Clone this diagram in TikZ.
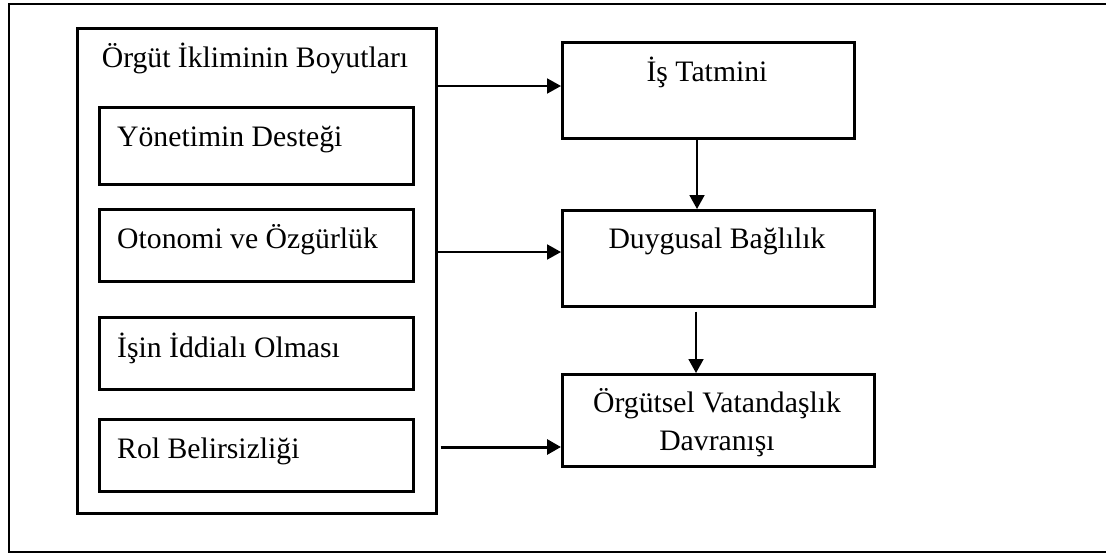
\documentclass[tikz,border=0pt]{standalone}
\usepackage{fontspec}
\setmainfont{Liberation Serif}
\usetikzlibrary{arrows.meta}
\begin{document}
\begin{tikzpicture}[x=1pt,y=-1pt,
  box/.style={draw, line width=2.6pt, inner sep=0pt, anchor=north west},
  lbl/.style={font=\fontsize{29.7}{37}\selectfont, inner sep=0pt},
  arr/.style={-{Triangle[length=14pt,width=15pt]}, line width=1.9pt},
  arrthick/.style={-{Triangle[length=14pt,width=15pt]}, line width=3pt}]
\useasboundingbox (0,0) rectangle (1106,554);
\clip (0,0) rectangle (1106,554);
% outer frame (right side lies beyond the picture)
\draw[line width=2.6pt] (9,4) rectangle (1130,552);
% left group
\node[box, minimum width=359pt, minimum height=485pt] (dim) at (76,27) {};
\node[lbl, anchor=base] (dimt) at (255,67) {Örgüt İkliminin Boyutları};
\node[box, minimum width=314pt, minimum height=77pt] (b1) at (98,106) {};
\node[box, minimum width=314pt, minimum height=72pt] (b2) at (98,208) {};
\node[box, minimum width=314pt, minimum height=72pt] (b3) at (98,316) {};
\node[box, minimum width=314pt, minimum height=72pt] (b4) at (98,418) {};
\node[lbl, anchor=base west] (t1) at (117,146) {Yönetimin Desteği};
\node[lbl, anchor=base west] (t2) at (117,248) {Otonomi ve Özgürlük};
\node[lbl, anchor=base west] (t3) at (117,357) {İşin İddialı Olması};
\node[lbl, anchor=base west] (t4) at (117,458) {Rol Belirsizliği};
% right column
\node[box, minimum width=292pt, minimum height=96pt] (r1) at (561,41) {};
\node[box, minimum width=312pt, minimum height=96pt] (r2) at (561,209) {};
\node[box, minimum width=312pt, minimum height=92pt] (r3) at (561,373) {};
\node[lbl, anchor=base] (r1t) at (707,81) {İş Tatmini};
\node[lbl, anchor=base] (r2t) at (717,248) {Duygusal Bağlılık};
\node[lbl, anchor=base] (r3t) at (717,412) {Örgütsel Vatandaşlık};
\node[lbl, anchor=base] (r3u) at (717,450) {Davranışı};
% connector levels
\coordinate (y1) at (0,86);
\coordinate (y2) at (0,252);
\coordinate (y3) at (0,447);
\coordinate (x1) at (697,0);
\coordinate (x2) at (696,0);
\draw[arr] (dim.east |- y1) -- (r1.west |- y1);
\draw[arr] (dim.east |- y2) -- (r2.west |- y2);
\draw[arrthick, shorten <=3pt] (dim.east |- y3) -- (r3.west |- y3);
\draw[arr] (r1.south -| x1) -- (r2.north -| x1);
\draw[arr, shorten <=4pt] (r2.south -| x2) -- (r3.north -| x2);
\end{tikzpicture}
\end{document}
